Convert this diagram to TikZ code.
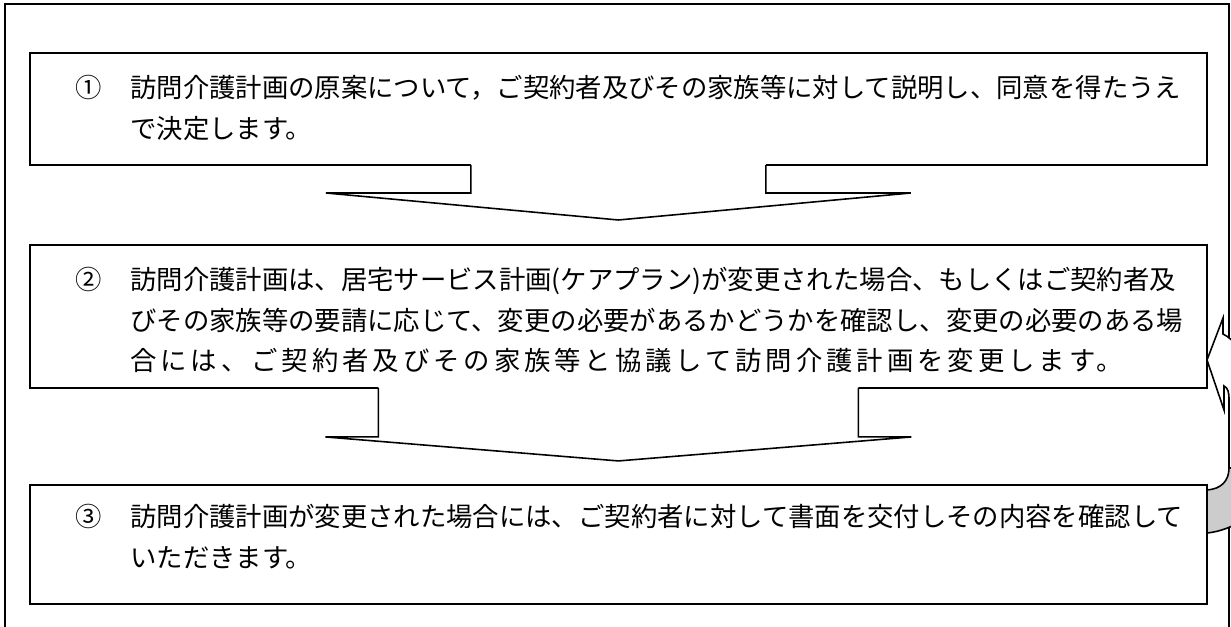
\documentclass[tikz,border=0pt]{standalone}
\usepackage{fontspec}
\newfontfamily\jpfont{Noto Sans CJK JP}
\usetikzlibrary{calc, positioning}
\definecolor{tailgray}{gray}{0.8}

\tikzset{
  box/.style={draw, line width=1.1pt, fill=white, minimum width=23.54cm, inner sep=0pt, outer sep=0pt},
  txt/.style={anchor=base west, align=left, inner sep=0pt, font=\jpfont\fontsize{15pt}{23.3pt}\selectfont},
  flow/.style={draw, line width=0.9pt, line join=miter},
  frame/.style={draw, line width=0.8pt},
}

% block arrow below a box: anchor, shaft half width, shaft length, head half width, head length
\newcommand{\flowarrow}[5]{%
  \fill[white] ($(#1)+(-#2,-5)$) -- ($(#1)+(-#2,#3)$) -- ($(#1)+(-#4,#3)$) -- ($(#1)+(0,#3+#5)$)
    -- ($(#1)+(#4,#3)$) -- ($(#1)+(#2,#3)$) -- ($(#1)+(#2,-5)$) -- cycle;
  \draw[flow] ($(#1)+(-#2,0)$) -- ($(#1)+(-#2,#3)$) -- ($(#1)+(-#4,#3)$) -- ($(#1)+(0,#3+#5)$)
    -- ($(#1)+(#4,#3)$) -- ($(#1)+(#2,#3)$) -- ($(#1)+(#2,0)$);
}

\begin{document}
\begin{tikzpicture}[x=0.02cm, y=-0.02cm]
\useasboundingbox (0,0) rectangle (1231,626);
\clip (0,0) rectangle (1231,626);
    % outer frame:
    \draw[frame] (5,640) -- (5,4) -- (1229,4) -- (1229,640);
    % the three steps:
    \node[box, minimum height=2.24cm, anchor=north west] (b1) at (30,53) {};
    \node[box, minimum height=2.86cm, below=1.6cm of b1] (b2) {};
    \node[box, minimum height=2.38cm, below=1.94cm of b2] (b3) {};
    \node[txt] (t1) at ($(b1.north west)+(100,85)$)
      {\llap{①\hspace{1.1em}}訪問介護計画の原案について，ご契約者及びその家族等に対して説明し、同意を得たうえ\\
       で決定します。};
    \node[txt] (t2) at ($(b2.north west)+(100,126)$)
      {\llap{②\hspace{1.1em}}訪問介護計画は、居宅サービス計画(ケアプラン)が変更された場合、もしくはご契約者及\\
       びその家族等の要請に応じて、変更の必要があるかどうかを確認し、変更の必要のある場\\
       {\addfontfeature{LetterSpace=15}合には、ご契約者及びその家族等と協議して訪問介護計画を変更します。}};
    \node[txt] (t3) at ($(b3.north west)+(100,83)$)
      {\llap{③\hspace{1.1em}}訪問介護計画が変更された場合には、ご契約者に対して書面を交付しその内容を確認して\\
       いただきます。};
    % arrows between the steps:
    \flowarrow{b1.south}{147.5}{28}{292.5}{27}
    \flowarrow{b2.south}{240}{49}{293}{24}
    % curved arrow back from step 3 to step 2:
    \fill[white] (1207,360) -- (1223,318) -- (1223,334) .. controls (1245,345) and (1262,385) .. (1262,430)
      -- (1262,470) -- (1229,470) -- (1229,400) .. controls (1229,392) and (1228,388) .. (1224,386)
      -- (1224,410) -- cycle;
    \draw[flow] (1229,470) -- (1229,400) .. controls (1229,392) and (1228,388) .. (1224,386)
      -- (1224,410) -- (1207,360) -- (1223,318) -- (1223,334) .. controls (1245,345) and (1262,385) .. (1262,430);
    \filldraw[flow, fill=tailgray] (1207,490) .. controls (1221,489) and (1229,481) .. (1229,468)
      -- (1265,468) -- (1265,505) .. controls (1250,518) and (1228,531) .. (1207,533) -- cycle;
\end{tikzpicture}
\end{document}
